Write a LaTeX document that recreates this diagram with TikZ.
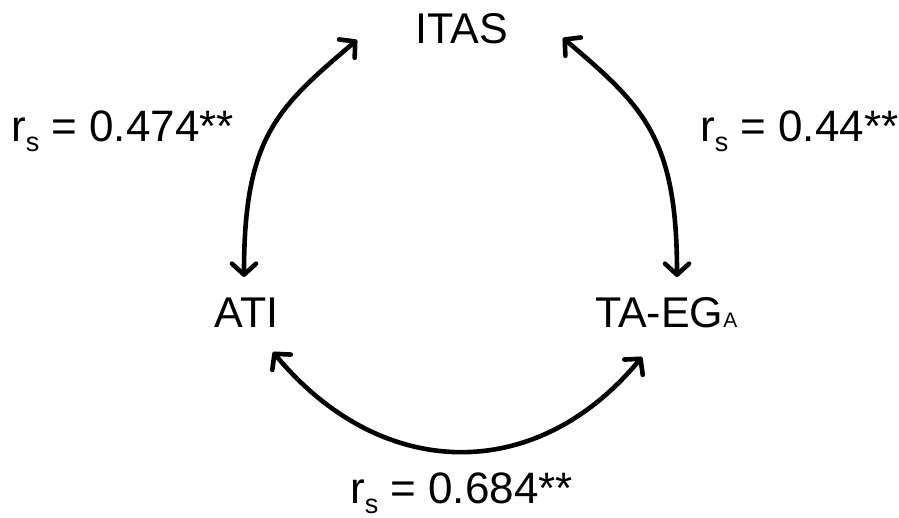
\documentclass[tikz,border=0pt]{standalone}
\usepackage{fontspec}
\setmainfont{Liberation Sans}
\usetikzlibrary{arrows.meta,calc}
\tikzset{
  lbl/.style={font=\fontsize{43}{43}\selectfont, inner sep=0pt},
  rlbl/.style={font=\fontsize{44}{44}\selectfont, inner sep=0pt},
  conn/.style={line width=4.6pt, {Straight Barb[length=11pt,width=24pt,line cap=round,line join=round]}-{Straight Barb[length=11pt,width=24pt,line cap=round,line join=round]}}
}
\newcommand{\rsub}{r\raisebox{-10pt}{\fontsize{27}{27}\selectfont s}}
\begin{document}
\begin{tikzpicture}[x=1pt,y=-1pt]
\useasboundingbox (0,0) rectangle (899,518);
\node[lbl, anchor=base] (itas) at (462,44) {ITAS};
\node[lbl, anchor=base] (ati) at (246.5,327) {ATI};
\node[lbl, anchor=base west] (taeg) at (595,327) {TA-EG\fontsize{21}{21}\selectfont A};
\node[rlbl, anchor=base west] (l1) at (11,142) {\rsub{} = 0.474**};
\node[rlbl, anchor=base west] (l2) at (700,142) {\rsub{} = 0.44**};
\node[rlbl, anchor=base west] (l3) at (350,503) {\rsub{} = 0.684**};
\draw[conn] ($(ati.base)+(-2.5,-50)$) .. controls +(0,-140) and +(-80,68) .. ($(itas.base)+(-105,-4)$);
\draw[conn] ($(taeg.base west)+(82,-50)$) .. controls +(0,-140) and +(80,68) .. ($(itas.base)+(101,-6)$);
\draw[conn] ($(ati.base)+(26.5,25)$) .. controls +(107,129) and +(-107,129) .. ($(taeg.base west)+(47,30)$);
\end{tikzpicture}
\end{document}
